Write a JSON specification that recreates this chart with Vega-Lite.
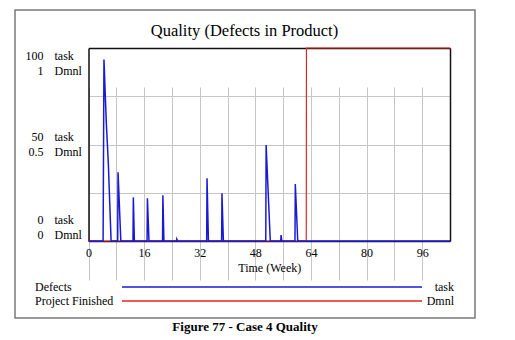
{
  "$schema": "https://vega.github.io/schema/vega-lite/v6.json",
  "width": 460,
  "height": 308,
  "autosize": {"type": "none"},
  "padding": {"left": 15, "top": 10, "right": 40, "bottom": 22},
  "background": "white",
  "title": {
    "text": "Figure 77 - Case 4 Quality",
    "orient": "bottom",
    "frame": "group",
    "anchor": "middle",
    "offset": 3,
    "baseline": "top",
    "font": "Liberation Serif",
    "fontSize": 13,
    "fontWeight": "bold",
    "color": "#000"
  },
  "config": {
    "view": {"stroke": "#7a7a7a", "strokeWidth": 1.5},
    "axis": {
      "labelFont": "Liberation Serif",
      "labelFontSize": 12,
      "labelColor": "#000",
      "titleFont": "Liberation Serif",
      "titleFontSize": 12,
      "titleFontWeight": "normal",
      "titleColor": "#000"
    },
    "legend": {
      "labelFont": "Liberation Serif",
      "labelFontSize": 12,
      "labelColor": "#000"
    }
  },
  "resolve": {
    "scale": {"y": "independent"},
    "axis": {"x": "independent", "y": "independent"}
  },
  "layer": [
    {
      "data": {
        "values": [
          {"week": 0, "finished": 0},
          {"week": 62.65, "finished": 0},
          {"week": 62.7, "finished": 1},
          {"week": 104, "finished": 1}
        ]
      },
      "mark": {"type": "line", "strokeWidth": 1.2},
      "encoding": {
        "x": {
          "field": "week",
          "type": "quantitative",
          "scale": {"domain": [0, 104], "range": [73.5, 435], "nice": false, "zero": false},
          "axis": {
            "orient": "top",
            "offset": -38,
            "title": "Quality (Defects in Product)",
            "titleFontSize": 16.5,
            "titlePadding": 10,
            "titleX": 229,
            "labels": false,
            "ticks": false,
            "grid": false,
            "domain": true,
            "domainColor": "#111",
            "domainWidth": 1.5
          }
        },
        "y": {
          "field": "finished",
          "type": "quantitative",
          "scale": {"domain": [0, 1], "range": [231, 38], "nice": false, "zero": false},
          "axis": {
            "orient": "right",
            "offset": -25,
            "values": [0, 0.5, 1],
            "labelExpr": "['task', 'Dmnl']",
            "labelAlign": "left",
            "labelPadding": -396,
            "labelFlush": false,
            "labelBaseline": {"condition": {"test": "datum.value == 0", "value": "line-bottom"}, "value": "top"},
            "labelOffset": {"condition": {"test": "datum.value == 1", "value": 2.5}, "value": -13.25},
            "labelOverlap": false,
            "labelLineHeight": 15,
            "ticks": false,
            "tickSize": 0,
            "grid": false,
            "domainColor": "#111",
            "domainWidth": 1.5,
            "title": null
          }
        },
        "color": {
          "datum": "Dmnl",
          "scale": {"domain": ["task", "Dmnl"], "range": ["#1a1ad6", "#e4261e"]},
          "legend": {
            "orient": "none",
            "legendX": 400,
            "legendY": 270,
            "direction": "vertical",
            "title": null,
            "padding": 0,
            "symbolType": "M-50,0H0",
            "symbolSize": 144,
            "symbolStrokeWidth": 1.3,
            "labelAlign": "right",
            "labelOffset": 25,
            "rowPadding": 1
          }
        },
        "strokeDash": {
          "datum": "Project Finished",
          "scale": {"domain": ["Defects", "Project Finished"], "range": [[1, 0], [1, 0]]},
          "legend": {
            "orient": "none",
            "legendX": 0,
            "legendY": 270,
            "direction": "vertical",
            "title": null,
            "padding": 0,
            "symbolSize": 144,
            "symbolStrokeWidth": 1.3,
            "symbolOpacity": 0,
            "labelAlign": "left",
            "labelOffset": 6,
            "rowPadding": 1
          }
        }
      }
    },
    {
      "data": {
        "values": [
          {"week": 0, "defects": 0},
          {"week": 4.2, "defects": 0},
          {"week": 4.45, "defects": 94},
          {"week": 5.13, "defects": 61},
          {"week": 5.71, "defects": 40},
          {"week": 6.5, "defects": 0},
          {"week": 8.4, "defects": 0},
          {"week": 8.5, "defects": 35.6},
          {"week": 9.3, "defects": 0},
          {"week": 12.8, "defects": 0},
          {"week": 12.9, "defects": 22.6},
          {"week": 13.2, "defects": 0},
          {"week": 16.85, "defects": 0},
          {"week": 16.95, "defects": 22.1},
          {"week": 17.4, "defects": 0},
          {"week": 21.3, "defects": 0},
          {"week": 21.4, "defects": 23.7},
          {"week": 21.7, "defects": 0},
          {"week": 25.3, "defects": 0},
          {"week": 25.4, "defects": 1},
          {"week": 25.6, "defects": 0},
          {"week": 34.0, "defects": 0},
          {"week": 34.1, "defects": 32.5},
          {"week": 34.5, "defects": 0},
          {"week": 38.3, "defects": 0},
          {"week": 38.4, "defects": 24.7},
          {"week": 38.8, "defects": 0},
          {"week": 51.0, "defects": 0},
          {"week": 51.1, "defects": 49.7},
          {"week": 52.3, "defects": 0},
          {"week": 55.3, "defects": 0},
          {"week": 55.4, "defects": 3.1},
          {"week": 55.6, "defects": 0},
          {"week": 59.4, "defects": 0},
          {"week": 59.5, "defects": 29.5},
          {"week": 60.2, "defects": 0},
          {"week": 104, "defects": 0}
        ]
      },
      "mark": {"type": "line", "strokeWidth": 1.5},
      "encoding": {
        "x": {
          "field": "week",
          "type": "quantitative",
          "axis": {
            "orient": "bottom",
            "offset": -77,
            "values": [0, 8, 16, 24, 32, 40, 48, 56, 64, 72, 80, 88, 96],
            "labelExpr": "datum.value % 16 == 0 ? datum.label : ''",
            "labelPadding": 6,
            "labelFlush": false,
            "labelOverlap": false,
            "ticks": false,
            "tickSize": 0,
            "grid": true,
            "gridColor": "#c6c6c6",
            "gridWidth": 1,
            "domainColor": "#111",
            "domainWidth": 1.5,
            "title": "Time (Week)",
            "titlePadding": 4
          }
        },
        "y": {
          "field": "defects",
          "type": "quantitative",
          "scale": {"domain": [0, 100], "range": [231, 38], "nice": false, "zero": false},
          "axis": {
            "orient": "left",
            "offset": -73.5,
            "values": [0, 25, 50, 75, 100],
            "labelExpr": "datum.value == 100 ? ['100', '1'] : datum.value == 50 ? ['50', '0.5'] : datum.value == 0 ? ['0', '0'] : ''",
            "labelAlign": "right",
            "labelPadding": 45.5,
            "labelFlush": false,
            "labelBaseline": {"condition": {"test": "datum.value == 0", "value": "line-bottom"}, "value": "top"},
            "labelOffset": {"condition": {"test": "datum.value == 100", "value": 2.5}, "value": -13.25},
            "labelOverlap": false,
            "labelLineHeight": 15,
            "ticks": false,
            "tickSize": 0,
            "grid": true,
            "gridColor": "#c6c6c6",
            "gridWidth": 1,
            "domainColor": "#111",
            "domainWidth": 1.5,
            "title": null
          }
        },
        "color": {"datum": "task"},
        "strokeDash": {"datum": "Defects"}
      }
    }
  ]
}
